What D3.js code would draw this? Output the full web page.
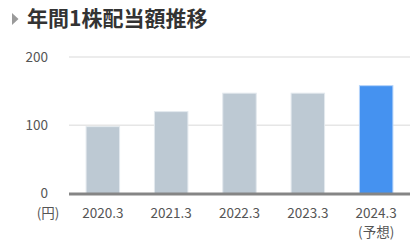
<!DOCTYPE html>
<html>
<head>
  <meta charset="utf-8">
  <script src="https://cdnjs.cloudflare.com/ajax/libs/d3/7.8.5/d3.min.js"></script>
  <style>
    body { margin: 0; background: #fff; }
    svg { display: block; font-family: "Noto Sans CJK JP", "Noto Sans", sans-serif; }
  </style>
</head>
<body>
  <svg></svg>
  <script>
    // data
    var years = ["2020.3", "2021.3", "2022.3", "2023.3", "2024.3"];
    var subLabels = ["", "", "", "", "(予想)"];
    var dividends = [98, 120, 147, 147, 158];
    var yTicks = [0, 100, 200];

    var svgWidth = 417, svgHeight = 245;
    var svg = d3.select("svg").attr("width", svgWidth).attr("height", svgHeight);

    // title
    svg.append("path")
      .attr("d", "M12,13 L18.5,19 L12,25 Z")
      .attr("fill", "#9a9a9a");
    svg.append("text")
      .attr("x", 27).attr("y", 26)
      .attr("font-size", 21).attr("font-weight", "bold")
      .attr("fill", "#333")
      .text("年間1株配当額推移");

    var left = 69, right = 410;
    var x = d3.scaleBand().domain(years).range([left, right]).paddingInner(0.51).paddingOuter(0.25);
    var y = d3.scaleLinear().domain([0, 200]).range([193.5, 57]);

    // gridlines
    svg.append("g").selectAll("line")
      .data(yTicks.filter(function(d) { return d > 0; }))
      .enter().append("line")
      .attr("x1", left).attr("x2", right)
      .attr("y1", function(d) { return y(d); })
      .attr("y2", function(d) { return y(d); })
      .attr("stroke", "#e6e6e6").attr("stroke-width", 1.5);

    // y labels
    svg.append("g").selectAll("text")
      .data(yTicks)
      .enter().append("text")
      .attr("x", 48)
      .attr("y", function(d) { return y(d); })
      .attr("dy", "0.35em")
      .attr("text-anchor", "end")
      .attr("font-size", 13.5)
      .attr("fill", "#555")
      .text(function(d) { return d; });

    // bars
    svg.append("g").selectAll("rect")
      .data(dividends)
      .enter().append("rect")
      .attr("x", function(d, i) { return x(years[i]); })
      .attr("width", x.bandwidth())
      .attr("y", function(d) { return y(d); })
      .attr("height", function(d) { return y(0) - y(d); })
      .attr("fill", function(d, i) { return i === years.length - 1 ? "#4592f0" : "#bdc9d3"; })
      .attr("stroke", function(d, i) { return i === years.length - 1 ? "#b7d5fa" : "#e3e9ee"; })
      .attr("stroke-width", 1);

    // baseline
    svg.append("line")
      .attr("x1", left).attr("x2", right)
      .attr("y1", y(0) + 0.5).attr("y2", y(0) + 0.5)
      .attr("stroke", "#858585").attr("stroke-width", 3);

    // x labels
    var xl = svg.append("g").selectAll("g")
      .data(years)
      .enter().append("g")
      .attr("transform", function(d) { return "translate(" + (x(d) + x.bandwidth() / 2) + ",0)"; });
    xl.append("text")
      .attr("y", 218)
      .attr("text-anchor", "middle")
      .attr("font-size", 13.5)
      .attr("fill", "#555")
      .text(function(d) { return d; });
    xl.append("text")
      .attr("y", 237)
      .attr("text-anchor", "middle")
      .attr("font-size", 13.5)
      .attr("fill", "#555")
      .text(function(d, i) { return subLabels[i]; });

    // unit
    svg.append("text")
      .attr("x", 48).attr("y", 218)
      .attr("text-anchor", "middle")
      .attr("font-size", 13.5)
      .attr("fill", "#555")
      .text("(円)");
  </script>
</body>
</html>
